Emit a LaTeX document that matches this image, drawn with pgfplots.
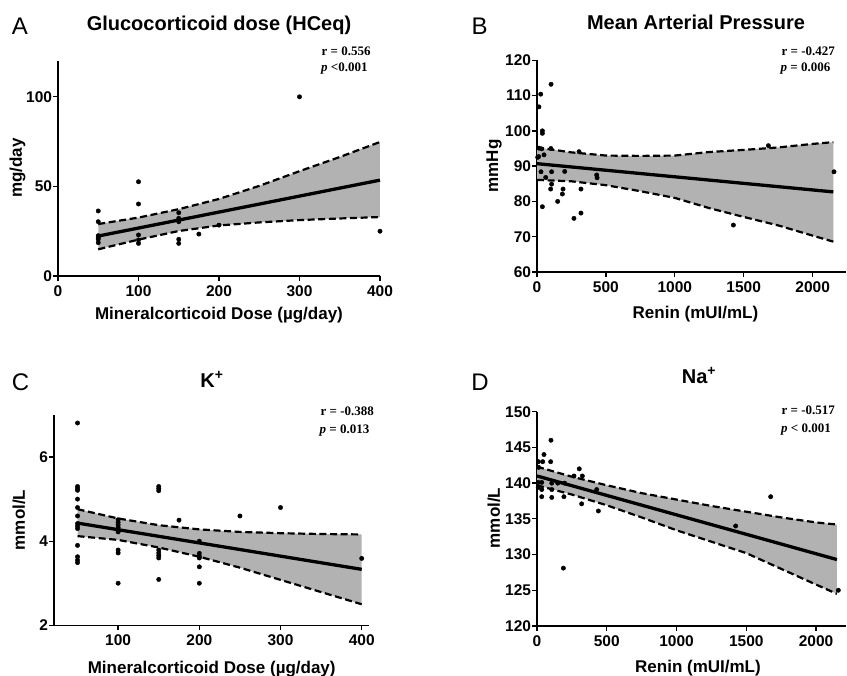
\documentclass[border=0pt]{standalone}
\usepackage{fontspec}
\setmainfont{Liberation Serif}
\setsansfont{Liberation Sans}
\usepackage{pgfplots}
\pgfplotsset{compat=1.18}
\definecolor{band}{gray}{0.70}
\pgfplotsset{
  panel/.style={
    scale only axis, clip=false,
    axis x line*=bottom, axis y line*=left,
    axis line style={-, line width=1.3pt, black},
    every tick/.style={line width=1.3pt, black},
    major tick length=5pt, tick align=outside,
    minor tick num=0,
    /pgf/number format/assume math mode=true,
    /pgf/number format/set thousands separator={},
    ticklabel style={font=\sffamily\bfseries\fontsize{15.5}{16}\selectfont},
    xticklabel style={inner sep=4.5pt},
    yticklabel style={inner sep=0.7pt},
  },
  bandfill/.style={fill=band, draw=none},
  ci/.style={black, line width=2.2pt, dash pattern=on 7pt off 3.6pt},
  reg/.style={black, line width=3.3pt},
  pts/.style={only marks, mark=*, mark size=2.2pt, black},
}
\newcommand{\lab}{\sffamily\bfseries\fontsize{17}{20}\selectfont}
\newcommand{\ttl}{\sffamily\bfseries\fontsize{20}{24}\selectfont}
\begin{document}
\begin{tikzpicture}[x=1pt,y=1pt]
\useasboundingbox (0,0) rectangle (847,676);

% ---------------- Panel A ----------------
\begin{axis}[panel, at={(58pt,400pt)}, anchor=south west,
  width=322pt, height=215pt,
  xmin=0, xmax=400, ymin=0, ymax=120,
  xtick={0,100,200,300,400}, ytick={0,50,100}]
\addplot[bandfill] coordinates {(50,29.0) (100,32.6) (150,37.3) (200,43.0) (250,50.3) (300,58.5) (350,66.4) (400,74.8)
 (400,32.9) (350,32.1) (300,31.2) (250,29.9) (200,28.2) (150,25.1) (100,20.3) (50,14.9)} -- cycle;
\addplot[ci] coordinates {(50,29.0) (100,32.6) (150,37.3) (200,43.0) (250,50.3) (300,58.5) (350,66.4) (400,74.8)};
\addplot[ci] coordinates {(50,14.9) (100,20.3) (150,25.1) (200,28.2) (250,29.9) (300,31.2) (350,32.1) (400,32.9)};
\addplot[reg] coordinates {(50,22.3) (400,53.5)};
\addplot[pts] coordinates {(50,36.3) (50,30.3) (50,22.5) (50,21.4) (50,20.5) (50,18.6)
 (100,52.6) (100,40.2) (100,22.9) (100,20.1) (100,18.2)
 (150,35.3) (150,32.2) (150,30.3) (150,20.5) (150,18.2)
 (175,23.4) (200,28.4) (300,100) (400,25)};
\end{axis}

% ---------------- Panel B ----------------
\begin{axis}[panel, at={(537pt,404pt)}, anchor=south west,
  width=309pt, height=211.7pt,
  xmin=0, xmax=2242, ymin=60, ymax=120,
  xtick={0,500,1000,1500,2000}, ytick={60,70,80,90,100,110,120}]
\addplot[bandfill] coordinates {(0,95.3) (250,93.9) (500,93.0) (750,92.9) (1000,93.0) (1250,94.0) (1500,94.6) (1750,95.3) (2000,96.3) (2150,96.8)
 (2150,68.6) (2000,70.3) (1750,73.2) (1500,75.6) (1250,78.1) (1000,81.0) (750,82.9) (500,84.6) (250,85.7) (0,86.1)} -- cycle;
\addplot[ci] coordinates {(0,95.3) (250,93.9) (500,93.0) (750,92.9) (1000,93.0) (1250,94.0) (1500,94.6) (1750,95.3) (2000,96.3) (2150,96.8)};
\addplot[ci] coordinates {(0,86.1) (250,85.7) (500,84.6) (750,82.9) (1000,81.0) (1250,78.1) (1500,75.6) (1750,73.2) (2000,70.3) (2150,68.6)};
\addplot[reg] coordinates {(0,90.7) (2150,82.7)};
\addplot[pts] coordinates {(5,92.5) (12,92.7) (14,106.8) (27,110.4) (14,95.1) (34,94.9) (39,100) (39,99.3) (51,93.2)
 (29,88.4) (39,78.5) (63,86.8) (102,113.2) (101,95) (99,83.5) (106,88.4) (106,84.9) (150,80) (184,82.1) (189,83.5)
 (201,88.5) (268,75.2) (305,94.1) (319,83.5) (319,76.7) (433,87.5) (436,86.7) (1425,73.3) (1679,95.8) (2155,88.4)};
\end{axis}

% ---------------- Panel C ----------------
\begin{axis}[panel, at={(54pt,50.7pt)}, anchor=south west,
  width=315pt, height=210.3pt,
  xmin=21, xmax=409, ymin=2, ymax=7,
  xtick={100,200,300,400}, ytick={2,4,6}]
\addplot[bandfill] coordinates {(50,4.76) (100,4.54) (150,4.38) (200,4.28) (250,4.22) (300,4.19) (350,4.17) (400,4.16)
 (400,2.50) (350,2.79) (300,3.08) (250,3.37) (200,3.63) (150,3.85) (100,4.03) (50,4.12)} -- cycle;
\addplot[ci] coordinates {(50,4.76) (100,4.54) (150,4.38) (200,4.28) (250,4.22) (300,4.19) (350,4.17) (400,4.16)};
\addplot[ci] coordinates {(50,4.12) (100,4.03) (150,3.85) (200,3.63) (250,3.37) (300,3.08) (350,2.79) (400,2.50)};
\addplot[reg] coordinates {(50,4.43) (400,3.33)};
\addplot[pts] coordinates {(50,6.81) (50,5.30) (50,5.25) (50,5.21) (50,5.0) (50,4.8) (50,4.6) (50,4.42) (50,4.36) (50,4.30)
 (50,3.9) (50,3.63) (50,3.55) (50,3.49)
 (100,4.51) (100,4.45) (100,4.39) (100,4.33) (100,4.27) (100,4.22) (100,3.79) (100,3.72) (100,3.0)
 (150,5.30) (150,5.25) (150,5.20) (150,3.79) (150,3.72) (150,3.66) (150,3.60) (150,3.09)
 (175,4.5) (200,4.0) (200,3.71) (200,3.64) (200,3.6) (200,3.39) (200,3.0)
 (250,4.6) (300,4.8) (400,3.59)};
\end{axis}

% ---------------- Panel D ----------------
\begin{axis}[panel, at={(537pt,50pt)}, anchor=south west,
  width=309pt, height=214.3pt,
  xmin=0, xmax=2215, ymin=120, ymax=150,
  xtick={0,500,1000,1500,2000}, ytick={120,125,130,135,140,145,150}]
\addplot[bandfill] coordinates {(0,142.3) (250,140.9) (500,139.7) (750,138.6) (1000,137.7) (1250,136.8) (1500,136.0) (1750,135.2) (2000,134.5) (2150,134.2)
 (2150,124.5) (2000,125.8) (1750,128.0) (1500,130.2) (1250,131.8) (1000,133.4) (750,135.2) (500,136.9) (250,138.4) (0,139.7)} -- cycle;
\addplot[ci] coordinates {(0,142.3) (250,140.9) (500,139.7) (750,138.6) (1000,137.7) (1250,136.8) (1500,136.0) (1750,135.2) (2000,134.5) (2150,134.2)};
\addplot[ci] coordinates {(0,139.7) (250,138.4) (500,136.9) (750,135.2) (1000,133.4) (1250,131.8) (1500,130.2) (1750,128.0) (2000,125.8) (2150,124.5)};
\addplot[reg] coordinates {(0,141.0) (2150,129.3)};
\addplot[pts] coordinates {(100,146) (50,144) (10,143) (41,143) (98,143) (12,142.2) (303,142) (265,141) (325,141)
 (9,140.1) (34,140.1) (106,140) (149,140) (198,140) (9,139.4) (34,139.1) (106,139.1) (428,139.1)
 (34,138.1) (106,138) (193,138.1) (320,137.1) (440,136.1) (189,128.1) (1424,134) (1675,138.1) (2160,125)};
\end{axis}

% ---------------- Texts ----------------
\node[anchor=base, font=\sffamily\fontsize{24}{28}\selectfont] at (20,641) {A};
\node[anchor=base, font=\sffamily\fontsize{24}{28}\selectfont] at (479.5,641.3) {B};
\node[anchor=base, font=\sffamily\fontsize{24}{28}\selectfont] at (20.5,285) {C};
\node[anchor=base, font=\sffamily\fontsize{24}{28}\selectfont] at (480,285.3) {D};

\node[anchor=base, font=\ttl] at (219,645.3) {Glucocorticoid dose (HCeq)};
\node[anchor=base, font=\ttl] at (696,646.7) {Mean Arterial Pressure};
\node[anchor=base, font=\ttl] at (212,288.7) {K\textsuperscript{+}};
\node[anchor=base, font=\ttl] at (699,292.7) {Na\textsuperscript{+}};

\node[anchor=base, font=\lab] at (219,356) {Mineralcorticoid Dose (µg/day)};
\node[anchor=base, font=\lab] at (695.5,357.7) {Renin (mUI/mL)};
\node[anchor=base, font=\lab] at (211.7,2) {Mineralcorticoid Dose (µg/day)};
\node[anchor=base, font=\lab] at (698,3.3) {Renin (mUI/mL)};

\node[rotate=90, font=\lab] at (17.5,508) {mg/day};
\node[rotate=90, font=\lab] at (494,510) {mmHg};
\node[rotate=90, font=\lab] at (19,156) {mmol/L};
\node[rotate=90, font=\lab] at (494,158) {mmol/L};

\node[anchor=base west, inner sep=0pt, font=\rmfamily\bfseries\fontsize{13}{16}\selectfont] at (321.5,620.3) {r = 0.556};
\node[anchor=base west, inner sep=0pt, font=\rmfamily\bfseries\fontsize{13}{16}\selectfont] at (321,604.3) {\textit{p} <0.001};
\node[anchor=base west, inner sep=0pt, font=\rmfamily\bfseries\fontsize{13}{16}\selectfont] at (781.5,620) {r = -0.427};
\node[anchor=base west, inner sep=0pt, font=\rmfamily\bfseries\fontsize{13}{16}\selectfont] at (780.5,604) {\textit{p} = 0.006};
\node[anchor=base west, inner sep=0pt, font=\rmfamily\bfseries\fontsize{13}{16}\selectfont] at (320.5,260) {r = -0.388};
\node[anchor=base west, inner sep=0pt, font=\rmfamily\bfseries\fontsize{13}{16}\selectfont] at (319.5,242.7) {\textit{p} = 0.013};
\node[anchor=base west, inner sep=0pt, font=\rmfamily\bfseries\fontsize{13}{16}\selectfont] at (781.5,261) {r = -0.517};
\node[anchor=base west, inner sep=0pt, font=\rmfamily\bfseries\fontsize{13}{16}\selectfont] at (781,243.7) {\textit{p} < 0.001};
\end{tikzpicture}
\end{document}
